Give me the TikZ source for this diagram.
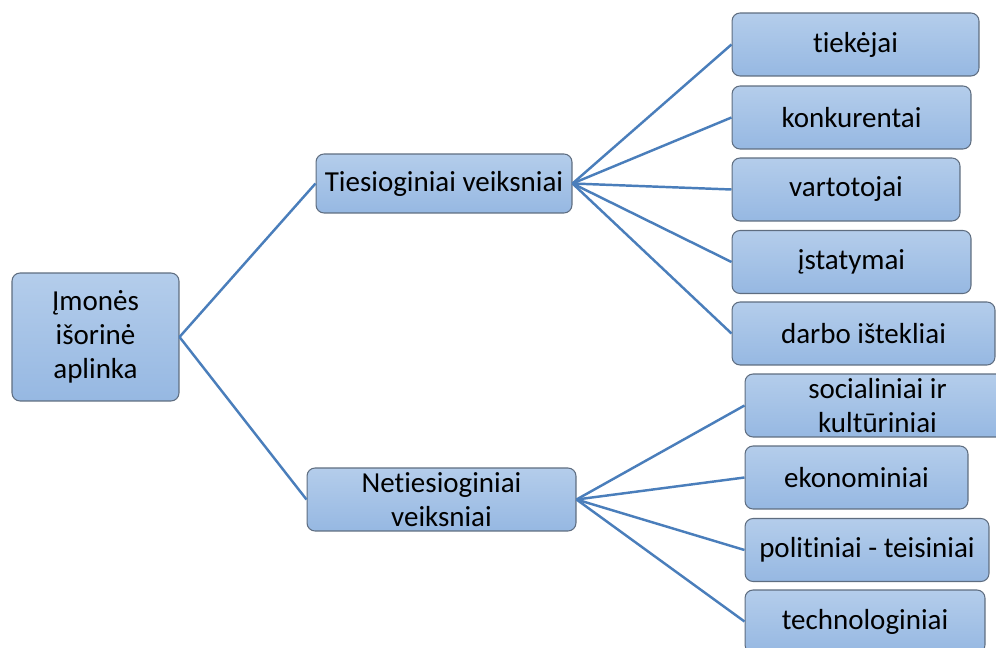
\documentclass[tikz,border=0pt]{standalone}
\usepackage{fontspec}
\setmainfont[Ligatures={NoCommon,NoContextual}]{Carlito}
\definecolor{boxtop}{HTML}{B4CDEB}
\definecolor{boxbottom}{HTML}{96B8E2}
\definecolor{boxline}{HTML}{5E6D80}
\definecolor{linkblue}{HTML}{4A7EBB}
\tikzset{
  factor/.style={rectangle, draw=boxline, line width=0.6pt, rounded corners=0.16cm,
    top color=boxtop, bottom color=boxbottom, minimum height=1.26cm, inner sep=1pt,
    align=center, font=\fontsize{16.5}{19.5}\selectfont},
  link/.style={draw=linkblue, line width=1.4pt}
}
\begin{document}
\begin{tikzpicture}[x=0.02cm, y=-0.02cm]
  \clip (0,0) rectangle (996,648);
  % Nodes
  \node (root) [factor, minimum width=3.34cm, minimum height=2.56cm] at (95.5, 337) {Įmonės\\išorinė\\aplinka};
  \node (direct) [factor, minimum width=5.12cm, minimum height=1.18cm] at (444, 183.5) {Tiesioginiai veiksniai};
  \node (indirect) [factor, minimum width=5.38cm] at (441.5, 499.5) {Netiesioginiai\\veiksniai};
  \node (suppliers) [factor, minimum width=4.94cm] at (855.5, 44.5) {tiekėjai};
  \node (rivals) [factor, minimum width=4.78cm] at (851.5, 117.5) {konkurentai};
  \node (buyers) [factor, minimum width=4.56cm] at (846, 189.5) {vartotojai};
  \node (laws) [factor, minimum width=4.78cm] at (851.5, 262) {įstatymai};
  \node (labour) [factor, minimum width=5.26cm] at (863.5, 333.5) {darbo ištekliai};
  \node (social) [factor, minimum width=5.3cm] at (877.5, 405.5) {socialiniai ir\\kultūriniai};
  \node (economy) [factor, minimum width=4.46cm] at (856.5, 477.5) {ekonominiai};
  \node (politics) [factor, minimum width=4.88cm] at (867, 550) {politiniai - teisiniai};
  \node (tech) [factor, minimum width=4.8cm] at (865, 621.5) {technologiniai};
  % Connectors
  \draw[link] (root.east) -- (direct.west);
  \draw[link] (root.east) -- (indirect.west);
  \foreach \n in {suppliers, rivals, buyers, laws, labour}
    \draw[link] (direct.east) -- (\n.west);
  \foreach \n in {social, economy, politics, tech}
    \draw[link] (indirect.east) -- (\n.west);
\end{tikzpicture}
\end{document}
